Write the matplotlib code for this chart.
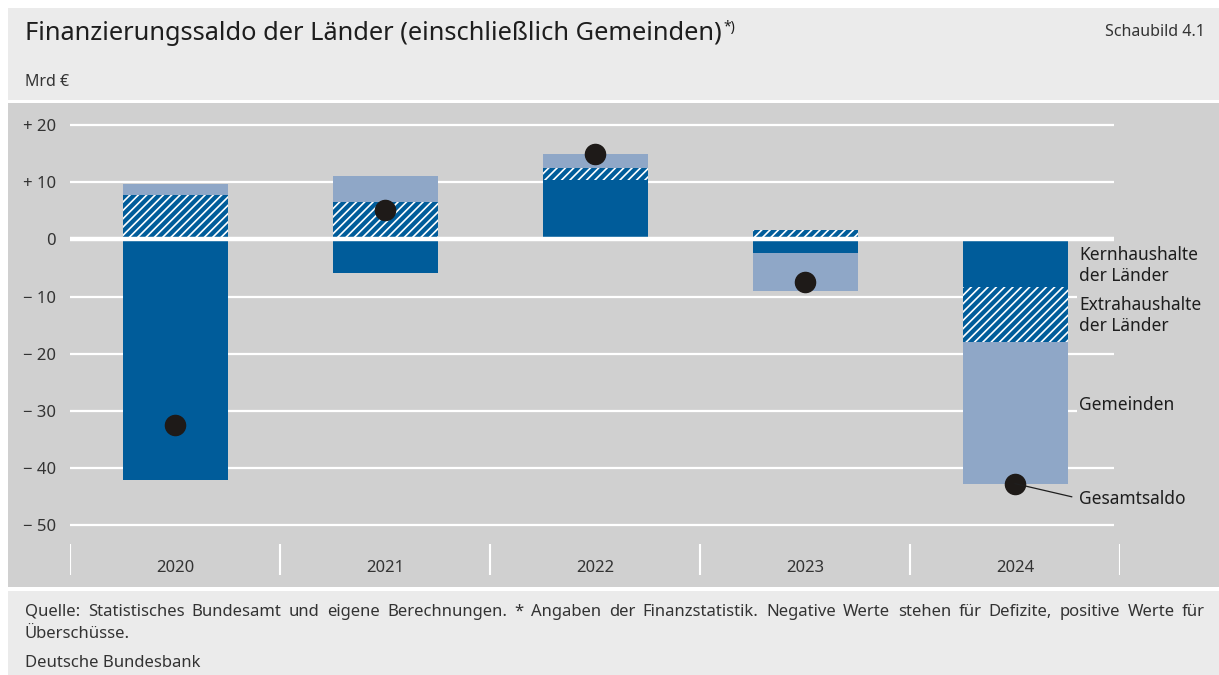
import numpy as np
import matplotlib
matplotlib.use('Agg')
import matplotlib.pyplot as plt
from matplotlib.patches import Rectangle

plt.rcParams['font.family'] = ['Noto Sans', 'DejaVu Sans']
plt.rcParams['hatch.linewidth'] = 1.2

# Daten (Mrd €)
jahre = ['2020', '2021', '2022', '2023', '2024']
kernhaushalte = [-42.1, -5.8, 10.3, -2.3, -8.4]
extrahaushalte = [7.7, 6.5, 2.1, 1.6, -9.6]
gemeinden = [1.9, 4.5, 2.6, -6.8, -24.7]
gesamtsaldo = [-32.5, 5.2, 15.0, -7.5, -42.7]

dunkelblau = '#005c9a'
hellblau = '#8fa7c7'
panel = '#d0d0d0'
kopf = '#ebebeb'
text_c = '#1e1e1e'
grau_text = '#333333'

W, H = 1219, 675
fig = plt.figure(figsize=(W / 100, H / 100), dpi=100, facecolor='white')

# Pixel (von oben) -> Figurkoordinaten
def fy(px):
    return 1 - px / H

# Hintergrundflächen
fig.add_artist(Rectangle((8 / W, fy(100)), 1, (100 - 8) / H, transform=fig.transFigure,
                         facecolor=kopf, edgecolor='none', zorder=0))
fig.add_artist(Rectangle((8 / W, fy(587)), 1, (587 - 103) / H, transform=fig.transFigure,
                         facecolor=panel, edgecolor='none', zorder=0))
fig.add_artist(Rectangle((8 / W, 0), 1, (H - 591) / H, transform=fig.transFigure,
                         facecolor=kopf, edgecolor='none', zorder=0))

# Diagramm
ax = fig.add_axes([70 / W, fy(580), (1120 - 70) / W, (580 - 112) / H])
ax.set_facecolor('none')
for s in ax.spines.values():
    s.set_visible(False)
ax.set_xlim(-0.5, 4.5)
ax.set_ylim(-59.55, 22.27)

# Titel
titel = fig.text(25 / W, fy(34), 'Finanzierungssaldo der Länder (einschließlich Gemeinden)',
                 fontsize=18.3, color=text_c, va='center', ha='left', fontweight='semibold')
ax.annotate('*)', xy=(1, 1), xycoords=titel, xytext=(1, 1), textcoords='offset points',
            fontsize=10, fontweight='bold', color=text_c, va='top', ha='left',
            annotation_clip=False)
fig.text(1205 / W, fy(32), 'Schaubild 4.1', fontsize=11.5, color=grau_text, ha='right', va='center')
fig.text(25 / W, fy(82), 'Mrd €', fontsize=11.5, color=grau_text, ha='left', va='center')

x = np.arange(len(jahre))
ax.hlines(np.arange(-50, 21, 10), -0.5, 4.47, color='white', lw=1.6, zorder=1)
ax.hlines(0, -0.5, 4.47, color='white', lw=3.2, zorder=4)

pos_basis = np.zeros(len(jahre))
neg_basis = np.zeros(len(jahre))
serien = [(kernhaushalte, dict(color=dunkelblau)),
          (extrahaushalte, dict(facecolor=dunkelblau, edgecolor='white', hatch='////', linewidth=0)),
          (gemeinden, dict(color=hellblau))]
for werte, stil in serien:
    werte = np.array(werte)
    basis = np.where(werte >= 0, pos_basis, neg_basis)
    ax.bar(x, werte, width=0.5, bottom=basis, zorder=2, **stil)
    pos_basis = pos_basis + np.where(werte >= 0, werte, 0)
    neg_basis = neg_basis + np.where(werte < 0, werte, 0)

ax.plot(x, gesamtsaldo, 'o', color='#1e1a18', markersize=14.5, zorder=5)

# y-Achse
ticks = np.arange(-50, 21, 10)
labels = ['+ ' + str(t) if t > 0 else ('0' if t == 0 else '\u2212 ' + str(-t)) for t in ticks]
ax.set_yticks(ticks)
ax.set_yticklabels(labels, fontsize=12, color=grau_text)
ax.tick_params(axis='y', length=0, pad=10)
ax.set_xticks([])

# Trennstriche und Jahre
ax.vlines(np.arange(-0.5, 4.6, 1), -53.3, -58.6, color='white', lw=1.5)
for i, j in enumerate(jahre):
    ax.text(i, -57.4, j, ha='center', va='center', fontsize=12, color=grau_text)

# Beschriftungen rechts
box = dict(facecolor=panel, edgecolor='none', pad=1.5)
lx = 4.305
ax.text(lx, -4.6, 'Kernhaushalte\nder Länder', fontsize=12.5, color=text_c, va='center',
        ha='left', linespacing=1.25, bbox=box, zorder=6)
ax.text(lx, -13.3, 'Extrahaushalte\nder Länder', fontsize=12.5, color=text_c, va='center',
        ha='left', linespacing=1.25, bbox=box, zorder=6)
ax.text(lx, -29.0, 'Gemeinden', fontsize=12.5, color=text_c, va='center', ha='left', bbox=box, zorder=6)
ax.text(lx, -45.4, 'Gesamtsaldo', fontsize=12.5, color=text_c, va='center', ha='left', bbox=box, zorder=6)
ax.plot([4, 4.27], [gesamtsaldo[4], -45.0], color=text_c, lw=0.9, zorder=5)

# Fußnote, erste Zeile im Blocksatz
fs = 12
zeile1 = ('Quelle: Statistisches Bundesamt und eigene Berechnungen. * Angaben der '
          'Finanzstatistik. Negative Werte stehen für Defizite, positive Werte für').split(' ')
renderer = fig.canvas.get_renderer()
woerter = []
for w in zeile1:
    t = fig.text(0, fy(612), w, fontsize=fs, color=grau_text, ha='left', va='center',
                 fontweight='bold' if w == '*' else 'normal')
    woerter.append(t)
breiten = [t.get_window_extent(renderer).width for t in woerter]
luecke = (1205 - 25 - sum(breiten)) / (len(woerter) - 1)
pos = 25
for t, b in zip(woerter, breiten):
    t.set_x(pos / W)
    pos += b + luecke
fig.text(25 / W, fy(634), 'Überschüsse.', fontsize=fs, color=grau_text, ha='left', va='center')
fig.text(25 / W, fy(663), 'Deutsche Bundesbank', fontsize=fs, color=grau_text, ha='left', va='center')

fig.savefig('out.png', dpi=100, facecolor=fig.get_facecolor())
